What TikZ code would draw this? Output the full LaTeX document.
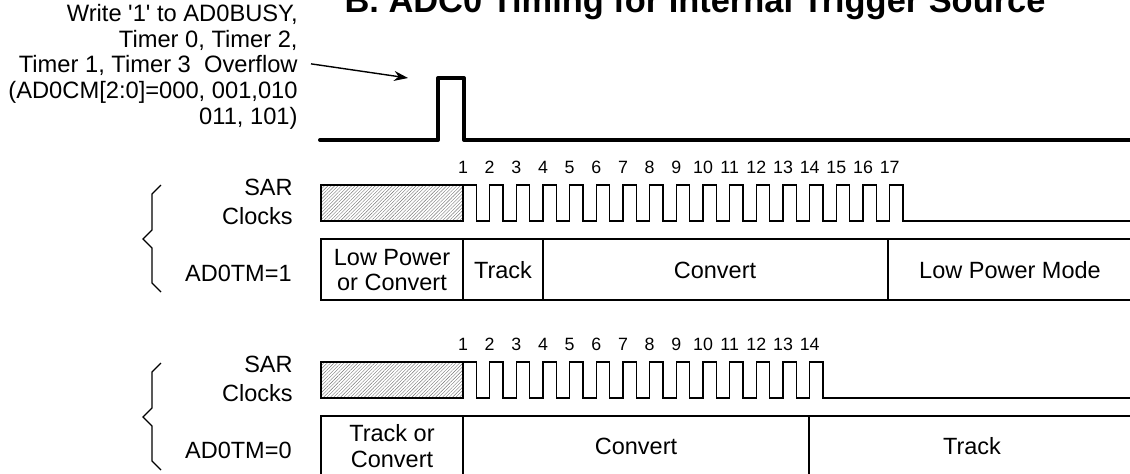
\documentclass[tikz,border=0pt]{standalone}
\usepackage{fontspec}
\setmainfont{Liberation Sans}[Ligatures=TeXOff]
\usepackage{tikz}
\usetikzlibrary{arrows.meta,patterns.meta,calc}
\tikzstyle{title} = [inner sep=0pt, font=\fontsize{17.2pt}{20pt}\selectfont\bfseries]
\tikzstyle{note} = [inner sep=0pt, align=right, font=\fontsize{11.85pt}{12.85pt}\selectfont]
\tikzstyle{side} = [inner sep=0pt, align=right, font=\fontsize{11.75pt}{14.5pt}\selectfont]
\tikzstyle{cell} = [inner sep=0pt, align=center, font=\fontsize{11.75pt}{12.6pt}\selectfont]
\tikzstyle{num} = [inner sep=0pt, anchor=base, font=\fontsize{8.9pt}{10pt}\selectfont]
\tikzstyle{arrow} = [line width=0.7pt,-{Stealth[length=7pt,width=5pt]}]
\tikzstyle{signal} = [line width=2pt, line join=round, line cap=round]
\tikzstyle{thin} = [line width=0.65pt]
\tikzstyle{hatch} = [draw, line width=0.65pt, pattern={Lines[angle=45,distance=1.2pt,line width=0.2pt]}, pattern color=black!55]

\begin{document}
\begin{tikzpicture}[x=0.5pt, y=-0.5pt]

    \useasboundingbox (0,0) rectangle (1130,473);

    \node (title) [title, anchor=base] at (695,12) {B. ADC0 Timing for Internal Trigger Source};

    % trigger source
    \node (trig) [note, anchor=north east] at (298,4) {Write '1' to AD0BUSY,\\Timer 0, Timer 2,\\Timer 1, Timer 3\ \ Overflow\\(AD0CM[2:0]=000, 001,010\\011, 101)};

    \coordinate (pulse) at (408,78);

    \draw [signal] (320,140) -- (438,140) -- (438,78) -- (464,78) -- (464,140) -- (1130,140);

    \draw [arrow] ([shift={(13,-3)}]trig.east) -- (pulse);

    % AD0TM=1
    \node (sar_one) [side, anchor=north east] at (293,179) {SAR\\Clocks};

    \node (tm_one) [side, anchor=base east] at (292,281) {AD0TM=1};

    \draw [thin] (161,185) -- (152,194) -- (152,230) -- (143,239) -- (152,248) -- (152,283) -- (161,292);

    \draw [hatch] (321,185) rectangle (463,221);

    \draw [thin] (463,185) \foreach \k in {1,...,16} { -- ++(13.33,0) -- ++(0,36) -- ++(13.34,0) -- ++(0,-36) } -- ++(13.33,0) -- ++(0,36) -- (1130,221);

    \foreach \k in {1,...,17}
        \node (up\k) [num] at ({463+(\k-1)*26.67},173) {\k};

    \draw [thin] (1130,239) -- (321,239) -- (321,300) -- (1130,300);
    \draw [thin] (463,239) -- (463,300);
    \draw [thin] (543,239) -- (543,300);
    \draw [thin] (888,239) -- (888,300);

    \node (lp_conv) [cell] at (392,270) {Low Power\\or Convert};
    \node (track_one) [cell] at (503,270) {Track};
    \node (conv_one) [cell] at (715,270) {Convert};
    \node (lpm) [cell] at (1010,270) {Low Power Mode};

    % AD0TM=0
    \node (sar_zero) [side, anchor=north east] at (293,356) {SAR\\Clocks};

    \node (tm_zero) [side, anchor=base east] at (292,458) {AD0TM=0};

    \draw [thin] (161,363) -- (152,372) -- (152,408) -- (143,417) -- (152,426) -- (152,461) -- (161,470);

    \draw [hatch] (321,362) rectangle (463,398);

    \draw [thin] (463,362) \foreach \k in {1,...,13} { -- ++(13.33,0) -- ++(0,36) -- ++(13.34,0) -- ++(0,-36) } -- ++(13.33,0) -- ++(0,36) -- (1130,398);

    \foreach \k in {1,...,14}
        \node (lo\k) [num] at ({463+(\k-1)*26.67},350) {\k};

    \draw [thin] (1130,416) -- (321,416) -- (321,480);
    \draw [thin] (463,416) -- (463,480);
    \draw [thin] (809,416) -- (809,480);

    \node (tr_conv) [cell] at (392,446) {Track or\\Convert};
    \node (conv_zero) [cell] at (636,446) {Convert};
    \node (track_zero) [cell] at (972,446) {Track};

\end{tikzpicture}
\end{document}
